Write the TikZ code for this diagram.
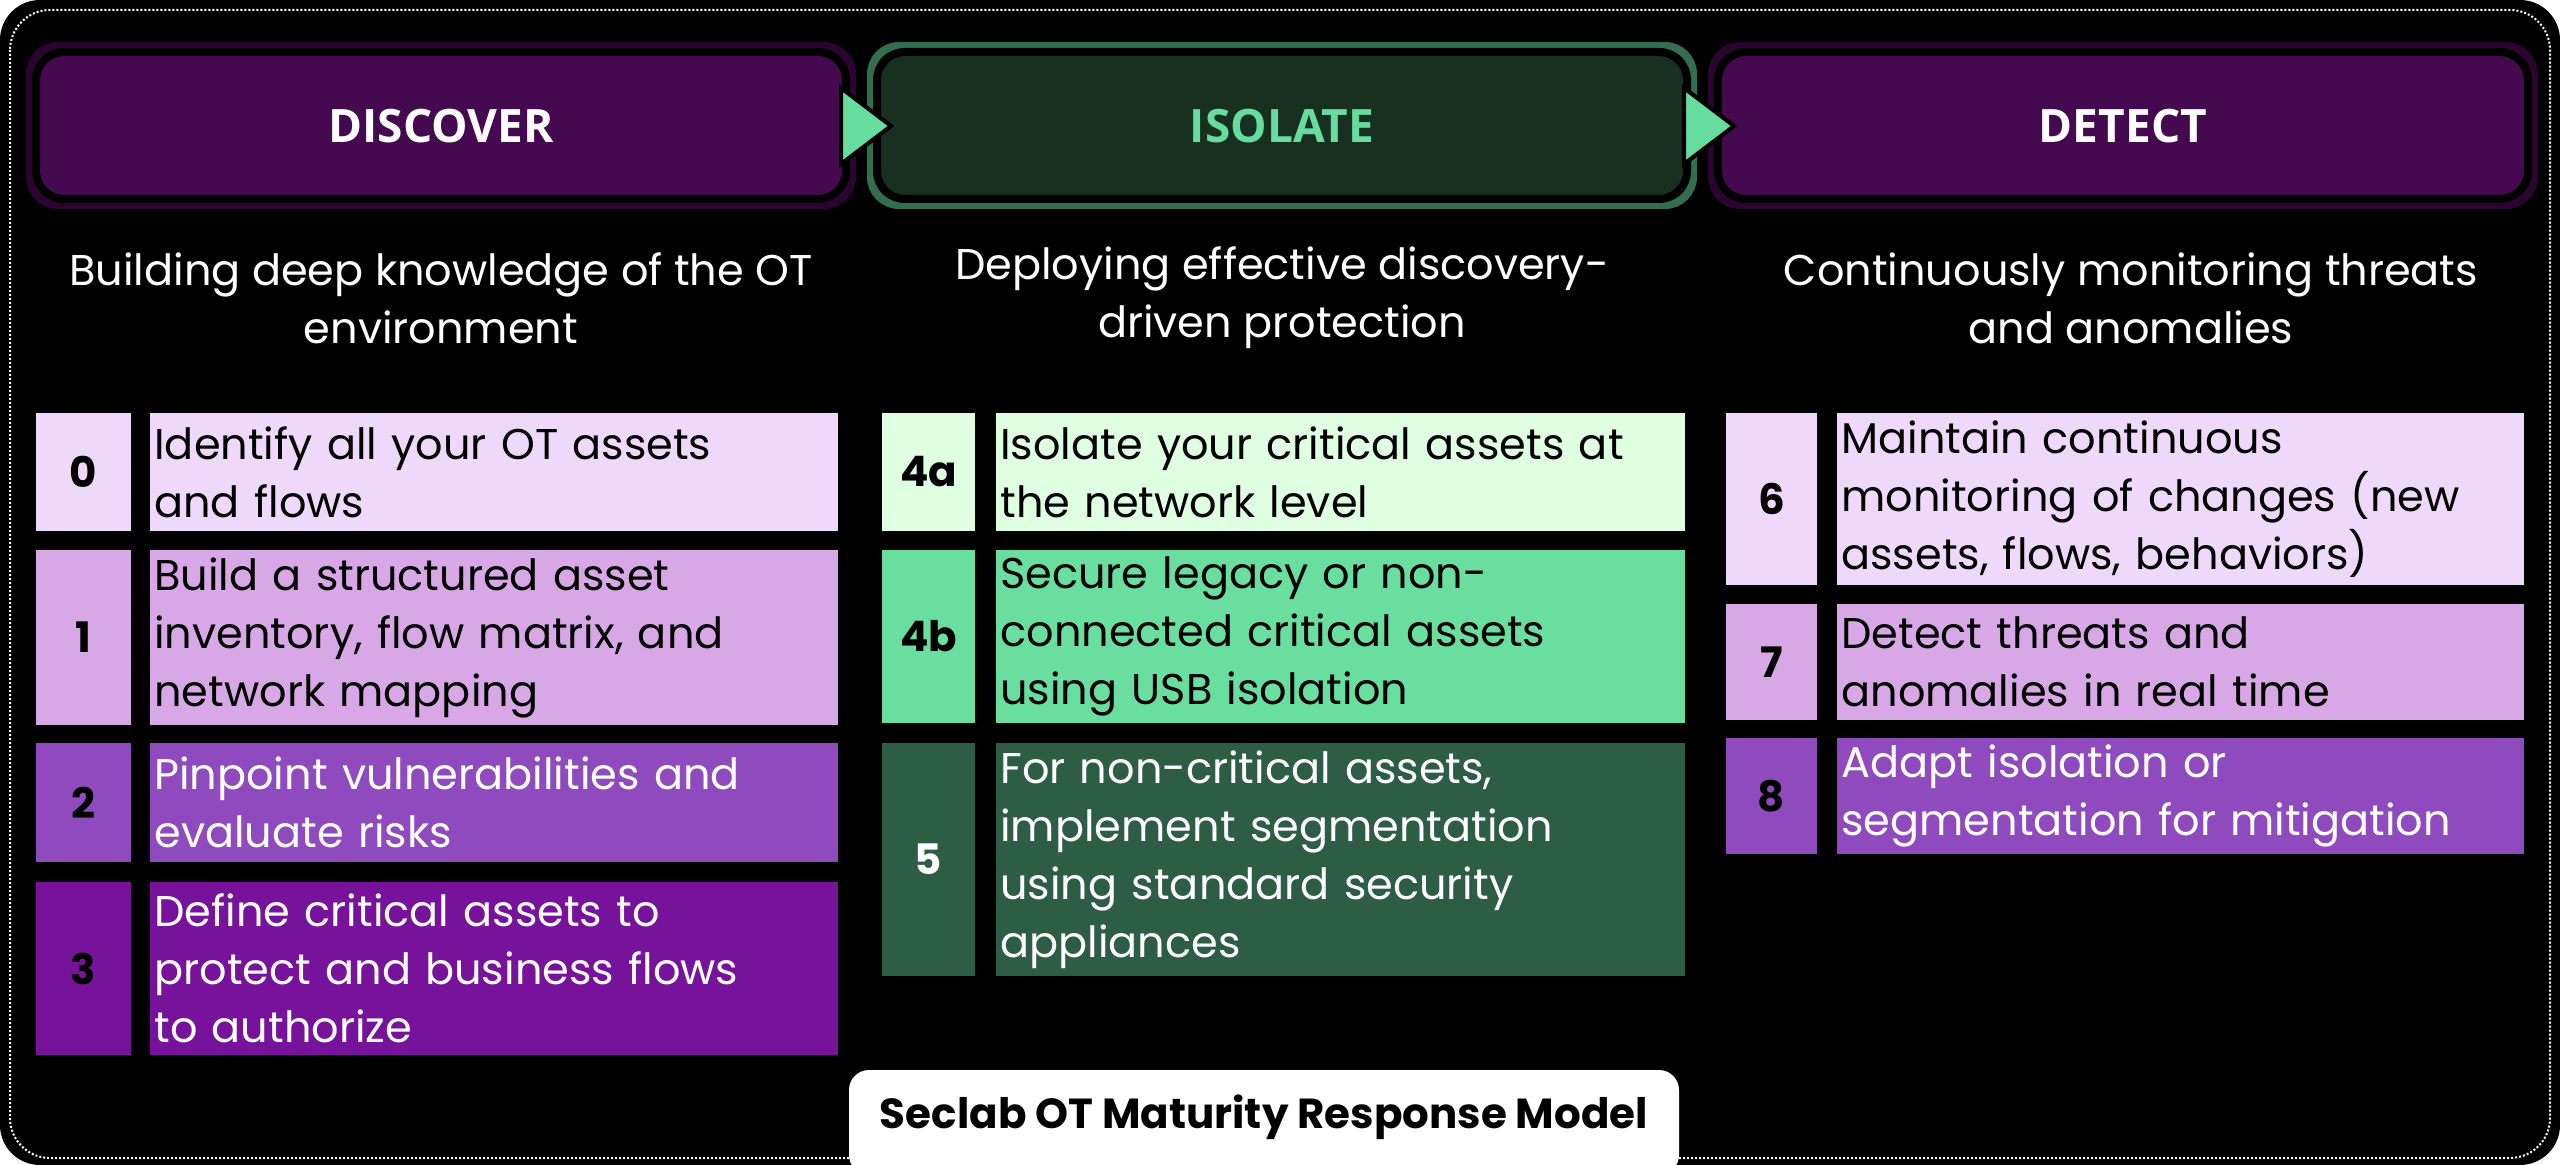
\documentclass[tikz,border=0pt]{standalone}
\usepackage{fontspec}
\setmainfont{Poppins}
\newfontfamily\headfont{Open Sans}
\definecolor{hdpurple}{HTML}{45094F}
\definecolor{hdgreen}{HTML}{173020}
\definecolor{mint}{HTML}{66DD9E}
\definecolor{lila}{HTML}{EFD9FB}
\definecolor{lilb}{HTML}{D8A8E6}
\definecolor{lilc}{HTML}{8F4BBD}
\definecolor{lild}{HTML}{76139A}
\definecolor{grna}{HTML}{DFFDE0}
\definecolor{grnb}{HTML}{6ADE9F}
\definecolor{grnc}{HTML}{2D5E45}
\tikzset{
  head/.style={draw=black,line width=4pt,rounded corners=14pt},
  headtext/.style={font=\headfont\bfseries\fontsize{23}{26}\selectfont},
  sub/.style={text=white,align=center,font=\fontsize{21.5}{29}\selectfont},
  num/.style={font=\bfseries\fontsize{21}{24}\selectfont},
  step/.style={anchor=west,align=left,inner sep=2pt,text width=#1,font=\fontsize{21.5}{29}\selectfont},
}
\begin{document}
\begin{tikzpicture}[x=0.5pt,y=-0.5pt]
\useasboundingbox (0,0) rectangle (2560,1165);
\fill[black,rounded corners=20pt] (0,0) rectangle (2560,1165);
\draw[white,densely dotted,line width=1pt,rounded corners=20pt] (10,10) rectangle (2550,1158);

% phase headers
\draw[head,fill=hdpurple,draw=hdpurple!60!black] (30,46) rectangle (852,205);
\draw[head,fill=hdpurple] (36,52) rectangle (846,199);
\node[headtext,text=white] (discover) at (441,126) {DISCOVER};
\draw[head,fill=hdgreen,draw=mint!50!black] (871,46) rectangle (1693,205);
\draw[head,fill=hdgreen] (877,52) rectangle (1687,199);
\node[headtext,text=mint] (isolate) at (1282,126) {ISOLATE};
\draw[head,fill=hdpurple,draw=hdpurple!60!black] (1712,46) rectangle (2534,205);
\draw[head,fill=hdpurple] (1718,52) rectangle (2528,199);
\node[headtext,text=white] (detect) at (2123,126) {DETECT};

% arrows between phases
\foreach \ax in {841,1684}
  \draw[black,line width=2pt,fill=mint,line join=miter] (\ax,88) -- (\ax+50,126) -- (\ax,164) -- cycle;

% subtitles
\node[sub] (subd) at (441,298) {Building deep knowledge of the OT\\environment};
\node[sub] (subi) at (1282,298) {Deploying effective discovery-\\driven protection};
\node[sub] (subt) at (2131,298) {Continuously monitoring threats\\and anomalies};

% discover steps
\foreach \n/\ya/\yb/\col/\tc/\txt in {
  0/413/531/lila/black/{Identify all your OT assets\\and flows},
  1/550/725/lilb/black/{Build a structured asset\\inventory, flow matrix, and\\network mapping},
  2/743/862/lilc/white/{Pinpoint vulnerabilities and\\evaluate risks},
  3/882/1055/lild/white/{Define critical assets to\\protect and business flows\\to authorize}}{
  \fill[\col] (36,\ya) rectangle (131,\yb);
  \fill[\col] (150,\ya) rectangle (838,\yb);
  \node[num] (n\n) at (83.5,{(\ya+\yb)/2}) {\n};
  \node[step=340pt,text=\tc] (s\n) at (150,{(\ya+\yb)/2}) {\txt};
}

% isolate steps
\foreach \n/\ya/\yb/\col/\tc/\txt in {
  4a/413/531/grna/black/{Isolate your critical assets at\\the network level},
  4b/550/723/grnb/black/{Secure legacy or non-\\connected critical assets\\using USB isolation},
  5/743/976/grnc/white/{For non-critical assets,\\implement segmentation\\using standard security\\appliances}}{
  \fill[\col] (882,\ya) rectangle (975,\yb);
  \fill[\col] (996,\ya) rectangle (1685,\yb);
  \node[num,text=\tc] (n\n) at (928.5,{(\ya+\yb)/2}) {\n};
  \node[step=340pt,text=\tc] (s\n) at (996,{(\ya+\yb)/2}) {\txt};
}

% detect steps
\foreach \n/\ya/\yb/\col/\tc/\txt in {
  6/413/585/lila/black/{Maintain continuous\\monitoring of changes (new\\assets, flows, behaviors)},
  7/604/720/lilb/black/{Detect threats and\\anomalies in real time},
  8/738/854/lilc/white/{Adapt isolation or\\segmentation for mitigation}}{
  \fill[\col] (1726,\ya) rectangle (1817,\yb);
  \fill[\col] (1837,\ya) rectangle (2524,\yb);
  \node[num] (n\n) at (1771.5,{(\ya+\yb)/2}) {\n};
  \node[step=340pt,text=\tc] (s\n) at (1837,{(\ya+\yb)/2}) {\txt};
}

% footer
\fill[white,rounded corners=10pt] (849,1070) rectangle (1679,1175);
\node[font=\bfseries\fontsize{21}{24}\selectfont] (title) at (1264,1117) {Seclab OT Maturity Response Model};
\end{tikzpicture}
\end{document}
